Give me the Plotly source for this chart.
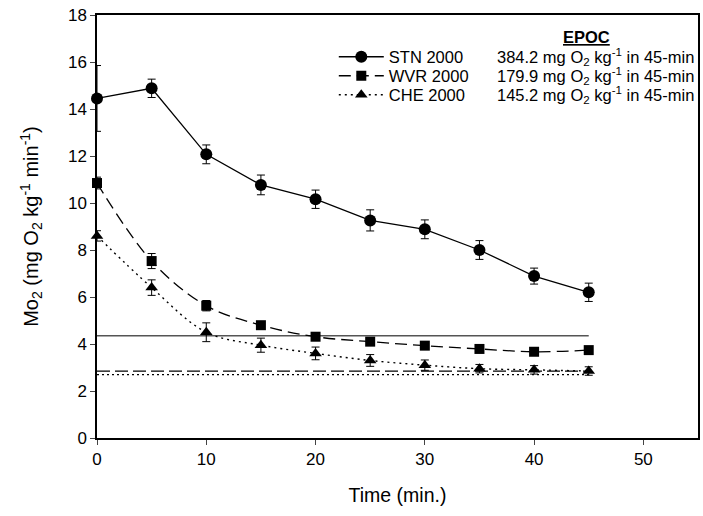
import plotly.graph_objects as go

time = [0, 5, 10, 15, 20, 25, 30, 35, 40, 45]
stn = [14.45, 14.88, 12.07, 10.77, 10.16, 9.26, 8.88, 8.0, 6.89, 6.2]
stn_err = [1.4, 0.39, 0.4, 0.42, 0.39, 0.45, 0.4, 0.4, 0.34, 0.39]
wvr = [10.85, 7.53, 5.63, 4.8, 4.31, 4.1, 3.93, 3.79, 3.67, 3.74]
wvr_err = [0.25, 0.32, 0.22, 0.15, 0.12, 0.12, 0.1, 0.1, 0.1, 0.1]
che = [8.6, 6.4, 4.5, 3.95, 3.6, 3.3, 3.1, 2.95, 2.9, 2.85]
che_err = [0.22, 0.33, 0.4, 0.3, 0.27, 0.25, 0.22, 0.18, 0.18, 0.18]

baseline_x = [0, 45]
stn_base = 4.35
wvr_base = 2.85
che_base = 2.7

names = ["STN 2000", "WVR 2000", "CHE 2000"]
epoc = ["384.2", "179.9", "145.2"]

FONT = "Liberation Sans, Arial, sans-serif"
PLOT_TOP, PLOT_BOTTOM = 15, 438
H = PLOT_BOTTOM - PLOT_TOP


def py_to_paper(py):
    return (PLOT_BOTTOM - py) / H


fig = go.Figure()

# baselines
fig.add_trace(go.Scatter(x=baseline_x, y=[stn_base]*2, mode="lines",
                         line=dict(color="#555", width=1.4), showlegend=False))
fig.add_trace(go.Scatter(x=baseline_x, y=[wvr_base]*2, mode="lines",
                         line=dict(color="black", width=1.2, dash="13px,5px"), showlegend=False))
fig.add_trace(go.Scatter(x=baseline_x, y=[che_base]*2, mode="lines",
                         line=dict(color="black", width=1.3, dash="2px,3px"), showlegend=False))

fig.add_trace(go.Scatter(
    x=time, y=stn, name=names[0], mode="lines+markers", legend="legend",
    line=dict(color="black", width=1.3),
    marker=dict(symbol="circle", size=12, color="black"),
    error_y=dict(type="data", array=stn_err, color="black", thickness=1, width=4),
    cliponaxis=False))
fig.add_trace(go.Scatter(
    x=time, y=wvr, name=names[1], mode="lines+markers", legend="legend2",
    line=dict(color="black", width=1.3, dash="12px,6px", shape="spline"),
    marker=dict(symbol="square", size=10, color="black"),
    error_y=dict(type="data", array=wvr_err, color="black", thickness=1, width=4),
    cliponaxis=False))
fig.add_trace(go.Scatter(
    x=time, y=che, name=names[2], mode="lines+markers", legend="legend3",
    line=dict(color="black", width=1.4, dash="2px,4px", shape="spline"),
    marker=dict(symbol="triangle-up", size=11, color="black"),
    error_y=dict(type="data", array=che_err, color="black", thickness=1, width=4),
    cliponaxis=False))

row_px = [57, 76, 95]

annotations = [dict(xref="paper", yref="paper", x=0.815, y=py_to_paper(37),
                    yanchor="middle", xanchor="center",
                    text="<b><u>EPOC</u></b>", showarrow=False,
                    font=dict(family=FONT, size=16.5, color="black"))]
for v, py in zip(epoc, row_px):
    annotations.append(dict(
        xref="paper", yref="paper", x=0.663, y=py_to_paper(py),
        xanchor="left", yanchor="middle",
        text=f"{v} mg O<sub>2</sub> kg<sup>-1</sup> in 45-min", showarrow=False,
        font=dict(family=FONT, size=16.5, color="black")))


def leg(py):
    return dict(x=0.394, y=py_to_paper(py), xanchor="left", yanchor="middle",
                bgcolor="rgba(0,0,0,0)", font=dict(family=FONT, size=16.5),
                itemwidth=45)


fig.update_layout(
    width=703, height=516,
    margin=dict(l=97, r=3, t=15, b=78),
    paper_bgcolor="white", plot_bgcolor="white",
    font=dict(family=FONT, size=17, color="black"),
    showlegend=True,
    legend=leg(row_px[0]),
    legend2=leg(row_px[1]),
    legend3=leg(row_px[2]),
    annotations=annotations,
    xaxis=dict(range=[0, 55], tickvals=[0, 10, 20, 30, 40, 50], ticks="outside",
               ticklen=5, showline=True, linecolor="black", linewidth=1.5, mirror=True,
               showgrid=False, zeroline=False, tickfont=dict(size=17),
               title=dict(text="Time (min.)", font=dict(size=19.5), standoff=20)),
    yaxis=dict(range=[0, 18], tickvals=list(range(0, 19, 2)), ticks="outside",
               ticklen=5, showline=True, linecolor="black", linewidth=1.5, mirror=True,
               showgrid=False, zeroline=False, tickfont=dict(size=17),
               title=dict(text="Mo<sub>2</sub> (mg O<sub>2</sub> kg<sup>-1</sup> min<sup>-1</sup>)",
                          font=dict(size=20), standoff=24)),
)

fig.write_html("out.html", config={"displayModeBar": False},
               post_script="document.body.style.margin='0';")
